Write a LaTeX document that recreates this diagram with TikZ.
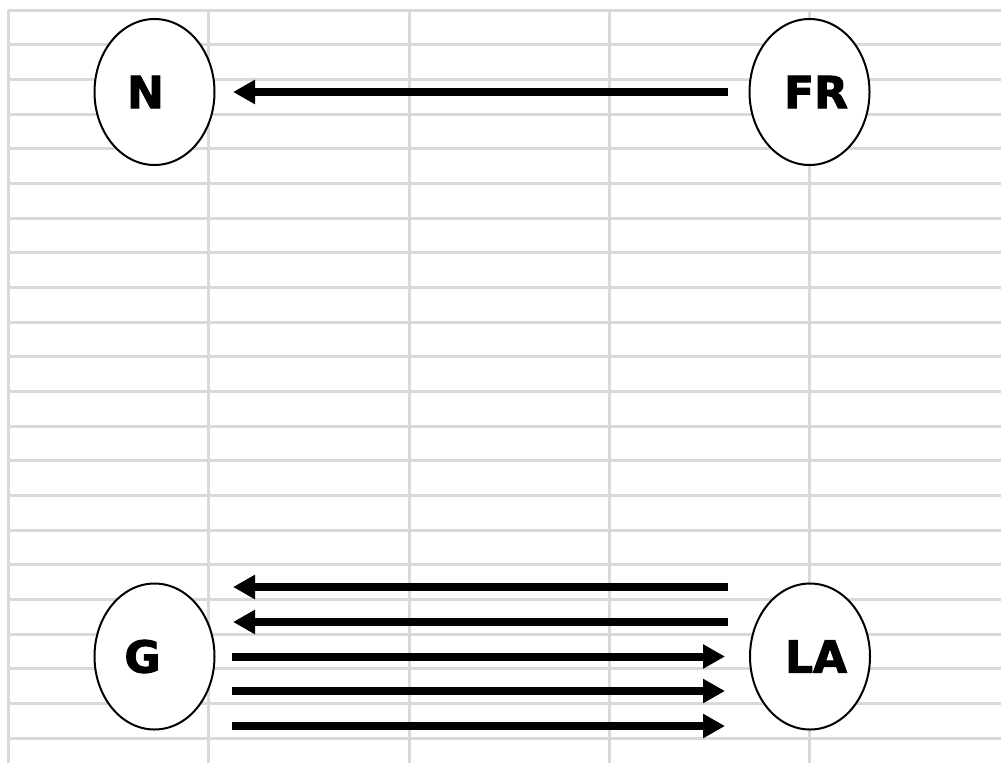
\documentclass[tikz,border=0pt]{standalone}
\usepackage{fontspec}
\setmainfont{DejaVu Sans}[BoldFeatures={FakeBold=2.2}]
\usetikzlibrary{shapes.geometric,arrows.meta}
\definecolor{gridgray}{RGB}{217,217,217}
\tikzset{
  gridline/.style={draw=gridgray, line width=3pt},
  state/.style={ellipse, draw=black, line width=2pt, fill=white, minimum width=120pt, minimum height=146pt, inner sep=0pt},
  lbl/.style={inner sep=0pt, font=\fontsize{44}{44}\selectfont\bfseries},
  arr/.style={draw=black, line width=8pt, -{Triangle[length=22pt,width=23pt]}}
}
\begin{document}
\begin{tikzpicture}[x=1pt,y=1pt]
\useasboundingbox (0,0) rectangle (1001,-763);
% grid
\foreach \k in {0,...,21} {
  \draw[gridline] (8,{-10-\k*34.67}) -- (1001,{-10-\k*34.67});
}
\foreach \xx in {8,208.5,409,609,809.5} {
  \draw[gridline] (\xx,-10) -- (\xx,-763);
}
% nodes
\node[state] (N)  at (154.5,-92) {};
\node[state] (FR) at (809.5,-92) {};
\node[state] (G)  at (154.5,-656.5) {};
\node[state] (LA) at (810,-656.5) {};
\node[lbl] (Nt)  at ([xshift=-9pt]N.center) {N};
\node[lbl] (FRt) at ([xshift=6.5pt]FR.center) {FR};
\node[lbl] (Gt)  at ([xshift=-12pt]G.center) {G};
\node[lbl] (LAt) at ([xshift=6pt]LA.center) {LA};
% arrows
\draw[arr, shorten <=21pt, shorten >=17.5pt] (FR) -- (N);
\draw[arr, shorten <=21pt, shorten >=17.5pt] ([yshift=69.5pt]LA.west) -- ([yshift=69.5pt]G.east);
\draw[arr, shorten <=21pt, shorten >=17.5pt] ([yshift=34.5pt]LA.west) -- ([yshift=34.5pt]G.east);
\draw[arr, shorten <=16.5pt, shorten >=24pt] (G.east) -- (LA.west);
\draw[arr, shorten <=16.5pt, shorten >=24pt] ([yshift=-34.5pt]G.east) -- ([yshift=-34.5pt]LA.west);
\draw[arr, shorten <=16.5pt, shorten >=24pt] ([yshift=-69.5pt]G.east) -- ([yshift=-69.5pt]LA.west);
\end{tikzpicture}
\end{document}
